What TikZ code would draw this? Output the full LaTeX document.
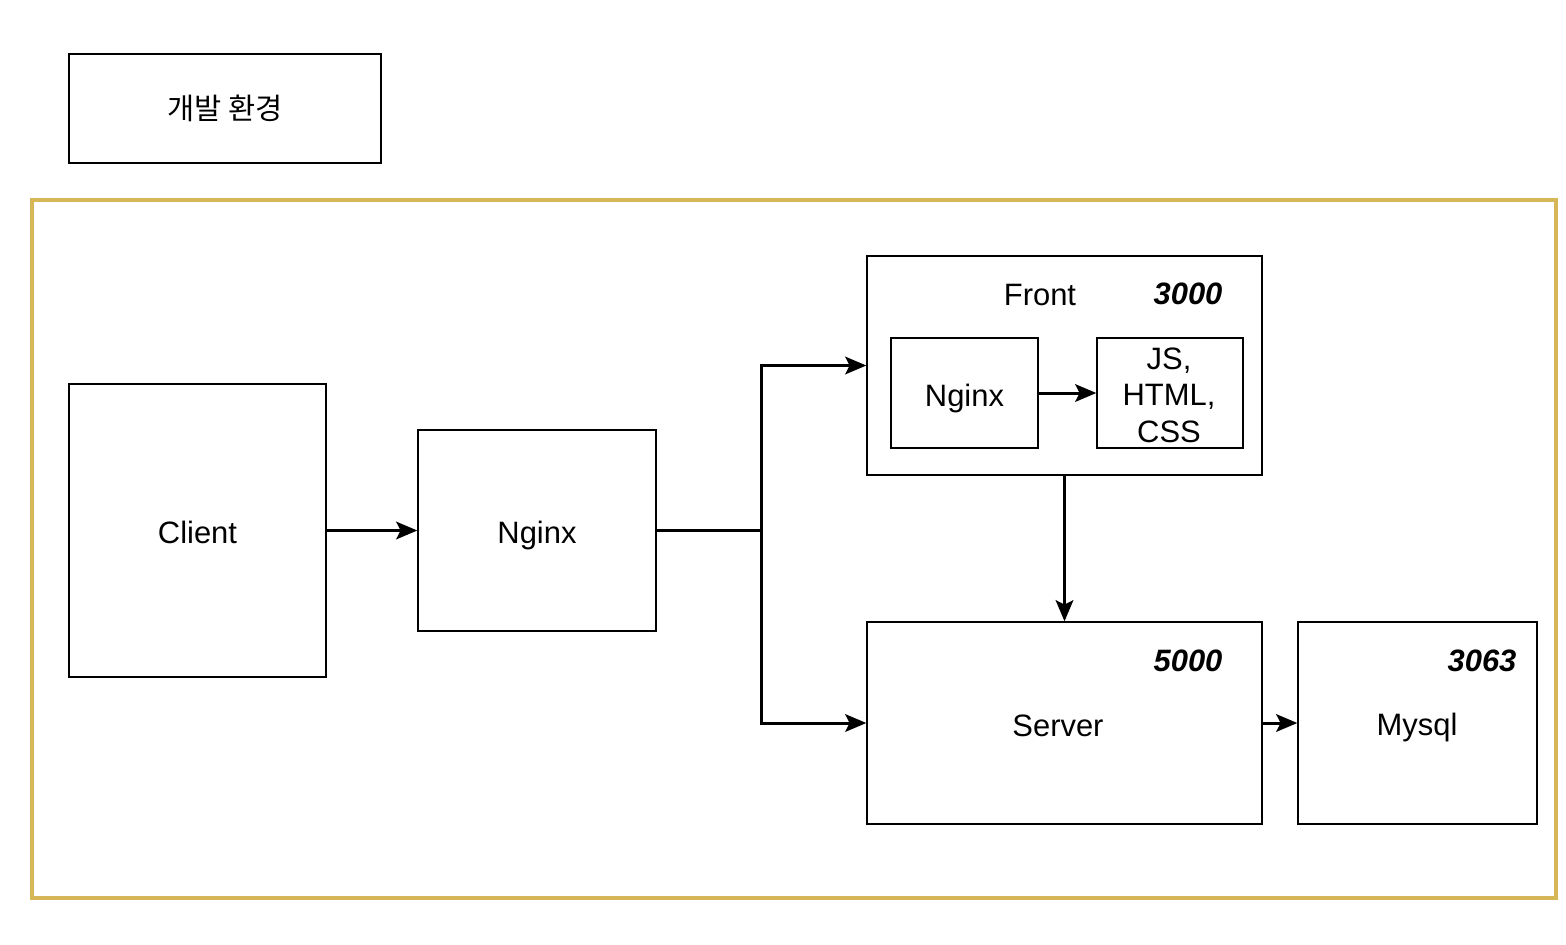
\documentclass[tikz,border=0pt]{standalone}
\usepackage{fontspec}
\setmainfont{Liberation Sans}
\newfontfamily\kofont{Noto Sans CJK KR}
\usetikzlibrary{arrows.meta}
\definecolor{frameGold}{HTML}{D6B656}

\begin{document}
\begin{tikzpicture}[x=0.02cm,y=-0.02cm,
    box/.style={draw,line width=0.8pt,minimum width=#1,inner sep=0pt},
    txt/.style={font=\fontsize{17.6}{20.7}\selectfont,text height=15pt,text depth=0pt},
    port/.style={font=\fontsize{17.6}{20.7}\selectfont\bfseries\itshape},
    flow/.style={line width=1.7pt,-{Stealth[length=12pt,width=10pt,inset=2.5pt]}}]
  \useasboundingbox (0,0) rectangle (1566,944);

  % outer frame
  \draw[frameGold,line width=2.3pt] (32,200) rectangle (1556,898);

  \node[box=6.24cm,minimum height=2.18cm,font=\kofont\fontsize{16.8}{20}\selectfont] (env) at (225,108.5) {개발 환경};

  \node[box=5.14cm,minimum height=5.86cm,txt] (client) at (197.5,530.5) {Client};
  \node[box=4.76cm,minimum height=4.02cm,txt] (nginx) at (537,530.5) {Nginx};

  \node[box=7.9cm,minimum height=4.38cm] (front) at (1064.5,365.5) {};
  \node[txt] (frontlbl) at (1040,292) {Front};
  \node[port] (frontport) at (1188,294) {3000};
  \node[box=2.94cm,minimum height=2.2cm,txt] (fnginx) at (964.5,393) {Nginx};
  \node[box=2.92cm,minimum height=2.2cm] (static) at (1170,393) {};
  \node[font=\fontsize{17.6}{20.7}\selectfont,align=center] (statictxt) at (1169,395) {JS,\\HTML,\\CSS};

  \node[box=7.9cm,minimum height=4.04cm] (server) at (1064.5,723) {};
  \node[txt] (serverlbl) at (1058,723) {Server};
  \node[port] (serverport) at (1188,661) {5000};

  \node[box=4.78cm,minimum height=4.04cm] (mysql) at (1417.5,723) {};
  \node[txt] (mysqllbl) at (1417,722) {Mysql};
  \node[port] (mysqlport) at (1482,661) {3063};

  \coordinate (split) at (761,530.5);

  \draw[flow] (client) -- (nginx);
  \draw[line width=1.7pt] (nginx.east) -- (split);
  \draw[flow] (split) |- (front.west);
  \draw[flow] (split) |- (server.west);
  \draw[flow] (front) -- (server);
  \draw[flow] (fnginx) -- (static);
  \draw[flow] (server) -- (mysql);
\end{tikzpicture}
\end{document}
